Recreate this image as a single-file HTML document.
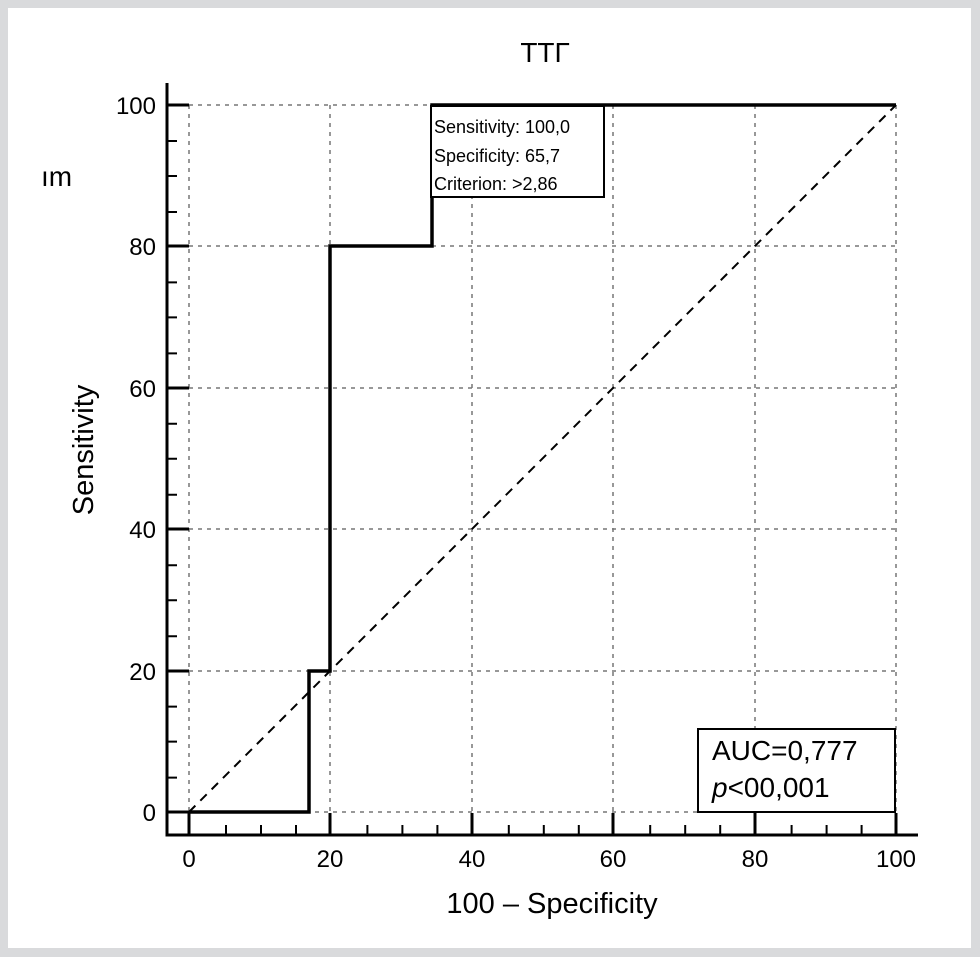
<!DOCTYPE html>
<html><head><meta charset="utf-8"><style>
body{margin:0;background:#fff}
svg{display:block;font-family:"Liberation Sans",sans-serif}
</style></head><body>
<svg width="980" height="957" viewBox="0 0 980 957">
<rect width="980" height="957" fill="#d9dadc"/>
<rect x="8" y="8" width="963" height="940" fill="#fff"/>
<g stroke="#777" stroke-width="1.5" stroke-dasharray="4,5">
<line x1="189" y1="105" x2="896" y2="105"/><line x1="189" y1="246" x2="896" y2="246"/>
<line x1="189" y1="388" x2="896" y2="388"/><line x1="189" y1="529" x2="896" y2="529"/>
<line x1="189" y1="671" x2="896" y2="671"/><line x1="189" y1="812" x2="896" y2="812"/>
<line x1="189" y1="105" x2="189" y2="812"/><line x1="330" y1="105" x2="330" y2="812"/>
<line x1="472" y1="105" x2="472" y2="812"/><line x1="613" y1="105" x2="613" y2="812"/>
<line x1="755" y1="105" x2="755" y2="812"/><line x1="896" y1="105" x2="896" y2="812"/>
</g>
<line x1="189" y1="812" x2="896" y2="105" stroke="#000" stroke-width="2" stroke-dasharray="9,7"/>
<g stroke="#000" stroke-width="3" fill="none">
<polyline points="167,83 167,835 918,835"/>
<path d="M167,105h22M167,246h22M167,388h22M167,529h22M167,671h22M167,812h22"/>
<path d="M189,835v-22M330,835v-22M472,835v-22M613,835v-22M755,835v-22M896,835v-22"/>
</g>
<g stroke="#000" stroke-width="2">
<path id="ym" d="M167,141h10M167,176h10M167,212h10"/>
<use href="#ym" y="141.4"/><use href="#ym" y="282.8"/><use href="#ym" y="424.2"/><use href="#ym" y="565.6"/>
<path id="xm" d="M226,835v-10M261,835v-10M296,835v-10"/>
<use href="#xm" x="141.4"/><use href="#xm" x="282.8"/><use href="#xm" x="424.2"/><use href="#xm" x="565.6"/>
</g>
<polyline points="189,812 309,812 309,671 330,671 330,246 432,246 432,105 896,105" stroke="#000" stroke-width="3.5" fill="none"/>
<rect x="431" y="106" width="173" height="91" fill="#fff" stroke="#000" stroke-width="2"/>
<g font-size="18" fill="#000">
<text x="434" y="133">Sensitivity: 100,0</text>
<text x="434" y="162">Specificity: 65,7</text>
<text x="434" y="190">Criterion: &gt;2,86</text>
</g>
<rect x="698" y="729" width="197" height="83" fill="#fff" stroke="#000" stroke-width="2"/>
<g font-size="28" fill="#000">
<text x="712" y="760">AUC=0,777</text>
<text x="712" y="797"><tspan font-style="italic">p</tspan>&lt;00,001</text>
</g>
<g font-size="24" fill="#000" text-anchor="end">
<text x="156" y="114">100</text><text x="156" y="255">80</text><text x="156" y="397">60</text>
<text x="156" y="538">40</text><text x="156" y="680">20</text><text x="156" y="821">0</text>
</g>
<g font-size="24" fill="#000" text-anchor="middle">
<text x="189" y="867">0</text><text x="330" y="867">20</text><text x="472" y="867">40</text>
<text x="613" y="867">60</text><text x="755" y="867">80</text><text x="896" y="867">100</text>
</g>
<text x="545" y="62" font-size="28" text-anchor="middle">ТТГ</text>
<text x="41" y="186" font-size="28">ım</text>
<text x="552" y="913" font-size="29" text-anchor="middle">100 – Specificity</text>
<text transform="translate(93,450) rotate(-90)" font-size="29" text-anchor="middle">Sensitivity</text>
</svg>
</body></html>
